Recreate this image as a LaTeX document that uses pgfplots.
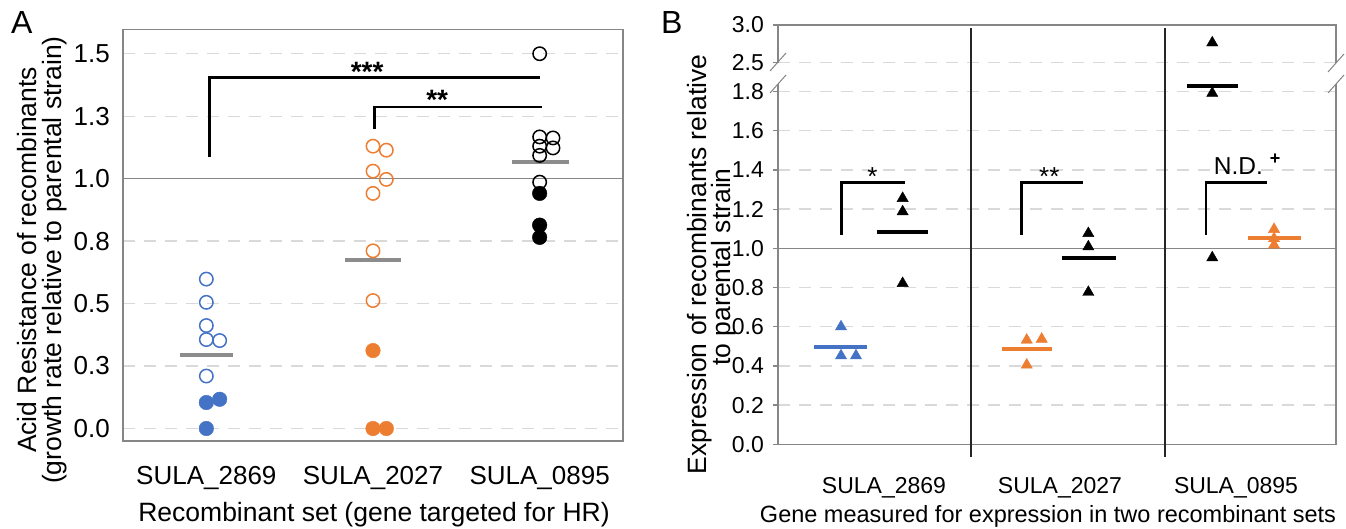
\documentclass[border=0pt]{standalone}
\usepackage{fontspec}
\setmainfont{Liberation Sans}
\usepackage{pgfplots}
\pgfplotsset{compat=1.18}
\definecolor{cblue}{HTML}{4472C4}
\definecolor{corange}{HTML}{ED7D31}
\definecolor{axisgray}{HTML}{868686}
\definecolor{gridgray}{HTML}{D9D9D9}
\definecolor{meangray}{HTML}{8C8C8C}
\newcommand{\fs}[1]{\fontsize{#1pt}{#1pt}\selectfont}
\begin{document}
\begin{tikzpicture}
\useasboundingbox (0,0) rectangle (1346pt,529pt);
% ---------------- Panel A ----------------
\begin{axis}[
  at={(123pt,88pt)}, anchor=south west, scale only axis,
  width=500pt, height=411.5pt,
  xmin=0.5, xmax=3.5, ymin=-0.05, ymax=1.597,
  clip=false,
  axis line style={draw=axisgray, line width=1.2pt},
  xtick={1,2,3}, xticklabels={SULA\_2869,SULA\_2027,SULA\_0895},
  ytick={0,0.25,0.5,0.75,1,1.25,1.5},
  yticklabels={0.0,0.3,0.5,0.8,1.0,1.3,1.5},
  major tick length=0pt,
  ymajorgrids, grid style={draw=gridgray, line width=1.3pt, dash pattern=on 12pt off 9pt},
  xticklabel style={font=\fs{26}, anchor=base, inner sep=0pt, yshift=-44pt},
  yticklabel style={font=\fs{26}, anchor=east, inner sep=0pt, xshift=-13pt},
]
\draw[axisgray, line width=1.3pt] (axis cs:0.5,1) -- (axis cs:3.5,1);
% means
\addplot[no marks, draw=meangray, line width=4pt] coordinates {(0.844,0.293) (1.160,0.293)};
\addplot[no marks, draw=meangray, line width=4pt] coordinates {(1.834,0.675) (2.168,0.675)};
\addplot[no marks, draw=meangray, line width=4pt] coordinates {(2.836,1.068) (3.176,1.068)};
% open circles
\addplot[only marks, mark=o, mark size=6.7pt, mark options={draw=cblue, line width=1.5pt}]
  coordinates {(1,0.598) (1,0.505) (1,0.412) (1,0.356) (1.08,0.352) (1,0.210)};
\addplot[only marks, mark=o, mark size=6.7pt, mark options={draw=corange, line width=1.5pt}]
  coordinates {(2,1.130) (2.08,1.114) (2,1.030) (2.08,0.997) (2,0.941) (2,0.711) (2,0.512)};
\addplot[only marks, mark=o, mark size=6.7pt, mark options={draw=black, line width=1.5pt}]
  coordinates {(3,1.50) (3,1.167) (3.08,1.163) (3,1.130) (3.08,1.123) (3,1.093) (3,0.986)};
% filled circles
\addplot[only marks, mark=*, mark size=7.3pt, mark options={draw=cblue, fill=cblue}]
  coordinates {(1,0.104) (1.08,0.117) (1,0.0)};
\addplot[only marks, mark=*, mark size=7.3pt, mark options={draw=corange, fill=corange}]
  coordinates {(2,0.312) (2,0.0) (2.08,0.0)};
\addplot[only marks, mark=*, mark size=7.3pt, mark options={draw=black, fill=black}]
  coordinates {(3,0.941) (3,0.814) (3,0.765)};
% significance
\draw[black, line width=2.7pt, line join=miter] (axis cs:1.018,1.085) -- (axis cs:1.018,1.405) -- (axis cs:3.0,1.405);
\draw[black, line width=2.7pt, line join=miter] (axis cs:2.009,1.199) -- (axis cs:2.009,1.287) -- (axis cs:3.016,1.287);
\node[anchor=base, inner sep=0pt, font=\fs{28}\bfseries] at (axis cs:1.965,1.39) {***};
\node[anchor=base, inner sep=0pt, font=\fs{28}\bfseries] at (axis cs:2.385,1.277) {**};
\end{axis}
% ---------------- Panel B ----------------
\begin{axis}[
  at={(778pt,84.7pt)}, anchor=south west, scale only axis,
  width=558pt, height=419.3pt,
  xmin=0.398, xmax=3.568, ymin=0, ymax=2.1395,
  clip=false,
  y filter/.expression={y>2.2 ? 1.949+(y-2.5)*0.381 : y},
  axis line style={draw=axisgray, line width=1.2pt},
  xtick={1,2,3}, xticklabels={SULA\_2869,SULA\_2027,SULA\_0895},
  ytick={0,0.2,0.4,0.6,0.8,1.0,1.2,1.4,1.6,1.8,1.949,2.1395},
  yticklabels={0.0,0.2,0.4,0.6,0.8,1.0,1.2,1.4,1.6,1.8,2.5,3.0},
  ytick pos=left, tick align=outside, major tick length=5pt,
  xtick style={draw=none},
  ytick style={draw=axisgray, line width=1.2pt},
  ymajorgrids, grid style={draw=gridgray, line width=1.3pt, dash pattern=on 12pt off 9pt},
  xticklabel style={font=\fs{23}, anchor=base, inner sep=0pt, yshift=-44.5pt},
  yticklabel style={font=\fs{23}, anchor=east, inner sep=0pt, xshift=-9pt},
]
\draw[axisgray, line width=1.3pt] (axis cs:0.398,1) -- (axis cs:3.568,1);
% separators
\draw[black!85, line width=2.3pt] (axis cs:1.4926,2.124) -- (axis cs:1.4926,-0.063);
\draw[black!85, line width=2.3pt] (axis cs:2.5966,2.124) -- (axis cs:2.5966,-0.063);
% means
\addplot[no marks, draw=cblue, line width=4pt] coordinates {(0.602,0.496) (0.903,0.496)};
\addplot[no marks, draw=black, line width=4pt] coordinates {(0.958,1.085) (1.252,1.085)};
\addplot[no marks, draw=corange, line width=4pt] coordinates {(1.669,0.488) (1.953,0.488)};
\addplot[no marks, draw=black, line width=4pt] coordinates {(2.010,0.949) (2.318,0.949)};
\addplot[no marks, draw=black, line width=4pt] coordinates {(2.720,1.828) (3.013,1.828)};
\addplot[no marks, draw=corange, line width=4pt] coordinates {(3.068,1.054) (3.368,1.054)};
% triangles
\addplot[only marks, mark=triangle*, mark size=6.5pt, mark options={draw=cblue, fill=cblue}]
  coordinates {(0.756,0.600) (0.756,0.452) (0.841,0.452)};
\addplot[only marks, mark=triangle*, mark size=6.5pt, mark options={draw=black, fill=black}]
  coordinates {(1.106,1.255) (1.106,1.187) (1.106,0.821)};
\addplot[only marks, mark=triangle*, mark size=6.5pt, mark options={draw=corange, fill=corange}]
  coordinates {(1.811,0.532) (1.896,0.537) (1.811,0.405)};
\addplot[only marks, mark=triangle*, mark size=6.5pt, mark options={draw=black, fill=black}]
  coordinates {(2.161,1.076) (2.161,1.008) (2.161,0.776)};
\addplot[only marks, mark=triangle*, mark size=6.5pt, mark options={draw=black, fill=black}]
  coordinates {(2.865,2.762) (2.865,1.791) (2.865,0.952)};
\addplot[only marks, mark=triangle*, mark size=6.5pt, mark options={draw=corange, fill=corange}]
  coordinates {(3.216,1.097) (3.216,1.050) (3.216,1.017)};
% significance
\draw[black, line width=2.5pt, line join=miter] (axis cs:0.760,1.068) -- (axis cs:0.760,1.335) -- (axis cs:1.119,1.335);
\draw[black, line width=2.5pt, line join=miter] (axis cs:1.782,1.068) -- (axis cs:1.782,1.335) -- (axis cs:2.129,1.335);
\draw[black, line width=2.5pt, line join=miter] (axis cs:2.830,1.068) -- (axis cs:2.830,1.335) -- (axis cs:3.178,1.335);
\node[anchor=base, inner sep=0pt, font=\fs{26}] at (axis cs:0.934,1.323) {*};
\node[anchor=base, inner sep=0pt, font=\fs{26}] at (axis cs:1.939,1.323) {**};
\node[anchor=base, inner sep=0pt, font=\fs{24.5}] at (axis cs:3.013,1.379) {N.D.};
\node[inner sep=0pt, font=\fs{18}\bfseries] at (axis cs:3.222,1.454) {+};
\end{axis}
% axis breaks
\fill[white] (774pt,445pt) rectangle (782pt,466pt);
\fill[white] (1332pt,445pt) rectangle (1340pt,466pt);
\draw[axisgray, line width=1pt] (770pt,458pt) -- (786pt,476pt);
\draw[axisgray, line width=1pt] (770pt,436pt) -- (786pt,454pt);
\draw[axisgray, line width=1pt] (1328pt,457pt) -- (1344pt,475pt);
\draw[axisgray, line width=1pt] (1328pt,436pt) -- (1344pt,454pt);
% panel letters
\node[anchor=base west, inner sep=0pt, font=\fs{32}] at (11pt,495pt) {A};
\node[anchor=base west, inner sep=0pt, font=\fs{32}] at (661pt,495pt) {B};
% axis titles
\node[anchor=base, inner sep=0pt, rotate=90, font=\fs{26.5}] at (36pt,269pt) {Acid Resistance of recombinants};
\node[anchor=base, inner sep=0pt, rotate=90, font=\fs{26.5}] at (61pt,269pt) {(growth rate relative to parental strain)};
\node[anchor=base, inner sep=0pt, font=\fs{26.5}] at (374pt,7.5pt) {Recombinant set (gene targeted for HR)};
\node[anchor=base, inner sep=0pt, rotate=90, font=\fs{26.5}] at (706pt,264.5pt) {Expression of recombinants relative};
\node[anchor=base, inner sep=0pt, rotate=90, font=\fs{26.5}] at (730pt,262pt) {to parental strain};
\node[anchor=base, inner sep=0pt, font=\fs{23.5}] at (1048pt,6pt) {Gene measured for expression in two recombinant sets};
\end{tikzpicture}
\end{document}
